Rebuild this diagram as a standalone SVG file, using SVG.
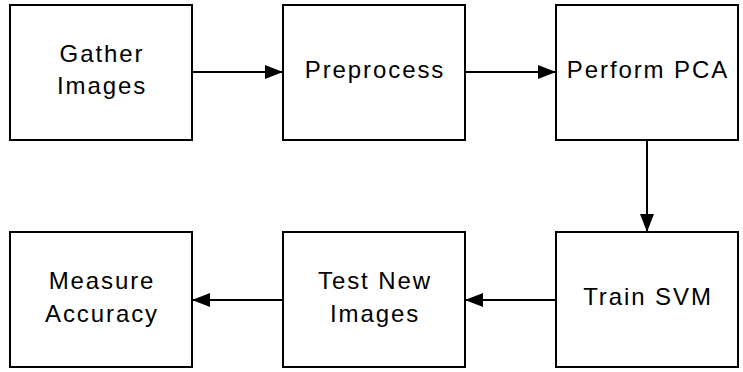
<svg xmlns="http://www.w3.org/2000/svg" width="743" height="372" viewBox="0 0 743 372">
  <style>
    .box { fill: #ffffff; stroke: #000000; stroke-width: 2; }
    .label { font-family: "Liberation Sans", Arial, sans-serif; font-size: 24px; letter-spacing: 1.9px; fill: #000000; text-anchor: middle; }
    .edge { stroke: #000000; stroke-width: 2; fill: none; marker-end: url(#arrow); }
  </style>
  <defs>
    <marker id="arrow" markerUnits="userSpaceOnUse" markerWidth="18" markerHeight="14" refX="18" refY="7" orient="auto">
      <path d="M0,0 L18,7 L0,14 Z" fill="#000000"/>
    </marker>
  </defs>
  <rect width="743" height="372" fill="#ffffff"/>

  <g id="connectors">
    <line class="edge" x1="192" y1="72" x2="283" y2="72"/>
    <line class="edge" x1="465" y1="72" x2="556" y2="72"/>
    <line class="edge" x1="647" y1="140" x2="647" y2="232"/>
    <line class="edge" x1="556" y1="300" x2="465" y2="300"/>
    <line class="edge" x1="283" y1="300" x2="192" y2="300"/>
  </g>

  <g id="gather-images">
    <rect class="box" x="10" y="5" width="182" height="135"/>
    <text class="label" x="102" y="61.5">Gather</text>
    <text class="label" x="102" y="94">Images</text>
  </g>
  <g id="preprocess">
    <rect class="box" x="283" y="5" width="182" height="135"/>
    <text class="label" x="375" y="77.5">Preprocess</text>
  </g>
  <g id="perform-pca">
    <rect class="box" x="556" y="5" width="182" height="135"/>
    <text class="label" x="648" y="77.5">Perform PCA</text>
  </g>
  <g id="train-svm">
    <rect class="box" x="556" y="232" width="182" height="135"/>
    <text class="label" x="648" y="305">Train SVM</text>
  </g>
  <g id="test-new-images">
    <rect class="box" x="283" y="232" width="182" height="135"/>
    <text class="label" x="375" y="289">Test New</text>
    <text class="label" x="375" y="321.5">Images</text>
  </g>
  <g id="measure-accuracy">
    <rect class="box" x="10" y="232" width="182" height="135"/>
    <text class="label" x="102" y="289">Measure</text>
    <text class="label" x="102" y="321.5">Accuracy</text>
  </g>
</svg>
